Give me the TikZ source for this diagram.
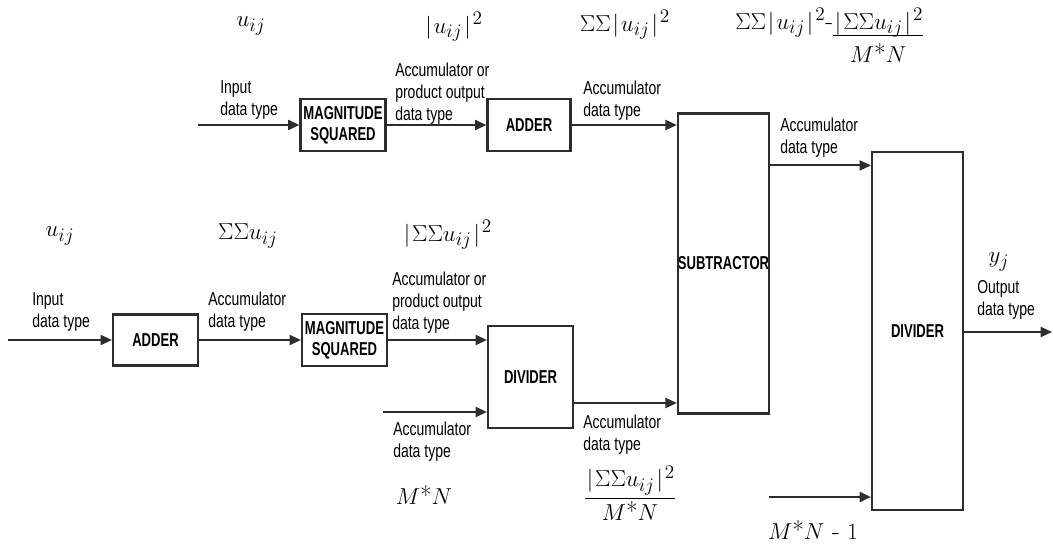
\documentclass[tikz,border=0pt]{standalone}
\usepackage{amsmath}
\usepackage[no-math]{fontspec}
\newfontfamily\labfont[FakeStretch=0.75]{Liberation Sans}
\newfontfamily\blkfont[FakeStretch=0.7]{Liberation Sans}
\usepackage{tikz}
\usetikzlibrary{calc, positioning, arrows.meta}
\definecolor{LineColour}{RGB}{45,45,45}
\def\pu{0.75pt}
\newcommand{\MN}{M\text{*}N}
\newcommand{\vbar}{\mkern1.5mu|\mkern1.5mu}

\tikzset{
  blk/.style={draw=LineColour, line width=1.6pt, fill=white, inner sep=0pt, align=center,
              font=\blkfont\bfseries\fontsize{14}{16}\selectfont},
  arr/.style={draw=LineColour, line width=1.5pt, -{Triangle[length=8.5pt,width=7.5pt]}},
  lab/.style={anchor=north west, inner sep=0pt, align=left,
              font=\labfont\fontsize{14}{16.5}\selectfont},
  sym/.style={inner sep=0pt, font=\fontsize{19}{22}\selectfont},
}

\begin{document}
\begin{tikzpicture}[x=\pu, y=-\pu]
  \useasboundingbox (0,0) rectangle (1053,546);

  % blocks
  \node[blk, minimum width=85*\pu, minimum height=52*\pu] (mag1) at (343,125) {MAGNITUDE\\SQUARED};
  \node[blk, minimum width=83*\pu, minimum height=52*\pu] (add1) at (529,125) {ADDER};
  \node[blk, minimum width=89*\pu, minimum height=300*\pu] (sub) at (723.5,263.5) {SUBTRACTOR};
  \node[blk, minimum width=91*\pu, minimum height=358*\pu] (div2) at (917.5,331) {DIVIDER};
  \node[blk, minimum width=85*\pu, minimum height=51*\pu] (add2) at (155.5,340) {ADDER};
  \node[blk, minimum width=85*\pu, minimum height=52*\pu] (mag2) at (344.5,340) {MAGNITUDE\\SQUARED};
  \node[blk, minimum width=85*\pu, minimum height=102*\pu] (div1) at (530.5,377) {DIVIDER};

  % free ends
  \coordinate (in1) at (198,125);
  \coordinate (in2) at (8,340);
  \coordinate (accin) at (383,412);
  \coordinate (mnin) at (769,497);
  \coordinate (outend) at (1052,332);
  \coordinate (d1out) at ($(div1.east)+(0,26)$);
  \coordinate (subout) at ($(sub.north east)+(0,53)$);

  % connectors
  \draw[arr] (in1) -- (mag1);
  \draw[arr] (mag1) -- (add1);
  \draw[arr] (add1.east) -- (add1.east -| sub.west);
  \draw[arr] (subout) -- (subout -| div2.west);
  \draw[arr] (mnin) -- (mnin -| div2.west);
  \draw[arr] (div2.east |- outend) -- (outend);
  \draw[arr] (in2) -- (add2);
  \draw[arr] (add2) -- (mag2);
  \draw[arr] (mag2.east) -- (mag2.east -| div1.west);
  \draw[arr] (accin) -- (accin -| div1.west);
  \draw[arr] (d1out) -- (d1out -| sub.west);

  % data type labels
  \node[lab] (tIn1) at (220,80) {Input\\data type};
  \node[lab] (tAcp1) at (395,63) {Accumulator or\\product output\\data type};
  \node[lab] (tAc1) at (583,81) {Accumulator\\data type};
  \node[lab] (tAc2) at (780,118) {Accumulator\\data type};
  \node[lab] (tOut) at (977,280) {Output\\data type};
  \node[lab] (tIn2) at (32,292) {Input\\data type};
  \node[lab] (tAc3) at (208,292) {Accumulator\\data type};
  \node[lab] (tAcp2) at (392,272) {Accumulator or\\product output\\data type};
  \node[lab] (tAc4) at (393,422) {Accumulator\\data type};
  \node[lab] (tAc5) at (583,415) {Accumulator\\data type};

  % signal expressions
  \node[sym] (uTop) at (251,26) {$u_{ij}$};
  \node[sym] (sqTop) at (453,27) {$\vbar u_{ij}\vbar^2$};
  \node[sym] (ssTop) at (625,25) {$\Sigma\Sigma\vbar u_{ij}\vbar^2$};
  \node[sym, anchor=base west] (diffTop) at (735,29)
    {$\Sigma\Sigma\vbar u_{ij}\vbar^2$-$\begin{array}[t]{@{}c@{}}\vbar\Sigma\Sigma u_{ij}\vbar^2\\[-2pt]\hline\rule{0pt}{20pt}\MN\end{array}$};
  \node[sym] (uBot) at (60,236) {$u_{ij}$};
  \node[sym] (ssBot) at (248,236) {$\Sigma\Sigma u_{ij}$};
  \node[sym] (sqBot) at (447,235) {$\vbar\Sigma\Sigma u_{ij}\vbar^2$};
  \node[sym] (yOut) at (999,262) {$y_j$};
  \node[sym] (mn) at (424,495) {$\MN$};
  \node[sym] (mnOne) at (813,530) {$\MN$ - $1$};
  \node[sym] (frac) at (630,493) {$\dfrac{\vbar\Sigma\Sigma u_{ij}\vbar^2}{\MN}$};
\end{tikzpicture}
\end{document}
